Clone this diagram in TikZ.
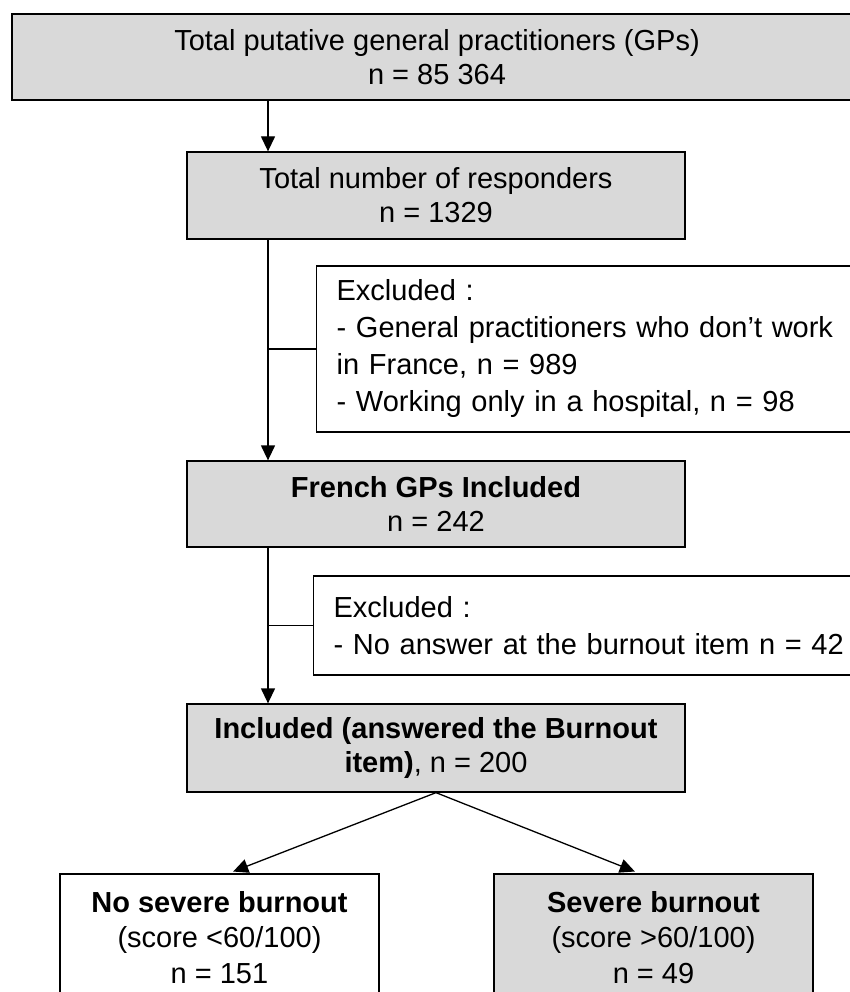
\documentclass[tikz,border=0pt]{standalone}
\usepackage{fontspec}
\setmainfont{Liberation Sans}
\usetikzlibrary{arrows.meta,calc}
\definecolor{boxgray}{HTML}{D9D9D9}
\begin{document}
\begin{tikzpicture}[x=1pt,y=-1pt,
  box/.style={draw=black, line width=1.3pt, fill=boxgray, inner sep=0pt, align=center, font=\fontsize{29}{34}\selectfont},
  wbox/.style={box, fill=white},
  exbox/.style={draw=black, line width=1.3pt, fill=white, inner xsep=20pt, inner ysep=0pt, text width=520pt, align=left, font=\fontsize{29}{37}\selectfont, anchor=west},
  arr/.style={line width=1.3pt, -{Triangle[width=14pt,length=15pt]}},
  conn/.style={line width=1.3pt}]
\useasboundingbox (0,0) rectangle (849,992);
\coordinate (spine) at (268,0);
\node[box, minimum width=850pt, minimum height=86pt] (top) at (437,57) {Total putative general practitioners (GPs)\\n = 85 364};
\node[box, minimum width=498pt, minimum height=87pt] (resp) at (436,195.5) {Total number of responders\\n = 1329};
\node[exbox, minimum height=166pt] (ex1) at (316,349) {Excluded :\\- General practitioners who don’t work\\in France, n = 989\\- Working only in a hospital, n = 98};
\node[box, minimum width=498pt, minimum height=86pt] (inc) at (436,504) {\textbf{French GPs Included}\\n = 242};
\node[exbox, minimum height=99pt] (ex2) at (313,625.5) {Excluded :\\- No answer at the burnout item n = 42};
\node[box, minimum width=498pt, minimum height=88pt] (fin) at (436,748) {\textbf{Included (answered the Burnout}\\\textbf{item)}, n = 200};
\node[wbox, minimum width=319pt, minimum height=127pt, font=\fontsize{29}{35.5}\selectfont] (nos) at (219.5,937.5) {\textbf{No severe burnout}\\(score <60/100)\\n = 151};
\node[box, minimum width=319pt, minimum height=127pt, font=\fontsize{29}{35.5}\selectfont] (sev) at (653.5,937.5) {\textbf{Severe burnout}\\(score >60/100)\\n = 49};
\draw[arr] (spine |- top.south) -- (spine |- resp.north);
\draw[arr] (spine |- resp.south) -- (spine |- inc.north);
\draw[conn] (spine |- ex1.west) -- (ex1.west);
\draw[arr] (spine |- inc.south) -- (spine |- fin.north);
\draw[conn] (spine |- ex2.west) -- (ex2.west);
\draw[arr, shorten >=5pt] (fin.south) -- ([xshift=9pt]nos.north);
\draw[arr, shorten >=5pt] (fin.south) -- ([xshift=-14pt]sev.north);
\end{tikzpicture}
\end{document}
